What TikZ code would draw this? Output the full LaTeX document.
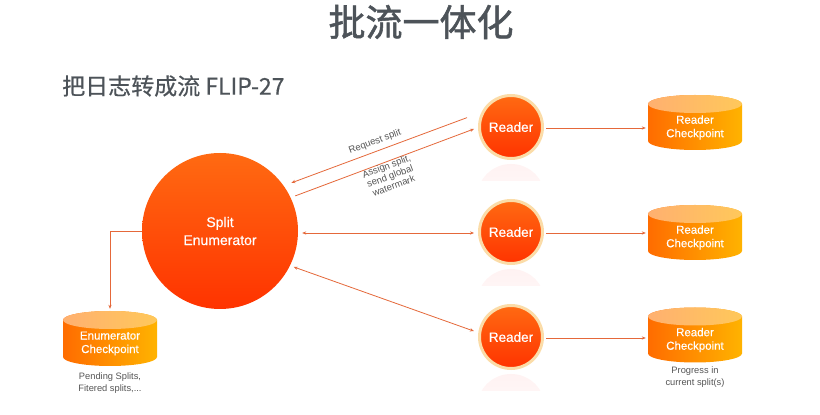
\documentclass[tikz,border=0pt]{standalone}
\usepackage{fontspec}
\setmainfont{Liberation Sans}
\newfontfamily\cjk{Noto Sans CJK SC}
\newfontfamily\cjktitle[FakeBold=1.4]{Noto Sans CJK SC}
\newfontfamily\cjksub[FakeBold=0.5]{Noto Sans CJK SC}
\newfontfamily\whitesans[FakeBold=0.4]{Liberation Sans}
\usetikzlibrary{arrows.meta,calc}
\definecolor{titlegray}{HTML}{4D5359}
\definecolor{labelgray}{HTML}{555555}
\definecolor{conncol}{HTML}{E5683A}
\definecolor{circTop}{HTML}{FF6A12}
\definecolor{circBot}{HTML}{FF3300}
\definecolor{ringcol}{HTML}{FBDCA8}
\definecolor{cylL}{HTML}{FF6C00}
\definecolor{cylR}{HTML}{FFB300}
\definecolor{topL}{HTML}{FFB070}
\definecolor{topR}{HTML}{FFC85A}
\newcommand\mycyl[4]{%
  \shade[left color=cylL, right color=cylR] (#2-47,#3+18.5) -- (#2-47,#3-18.5)
    arc[start angle=180,end angle=360,x radius=47,y radius=9] -- (#2+47,#3+18.5)
    arc[start angle=0,end angle=180,x radius=47,y radius=9] -- cycle;
  \shade[left color=topL, right color=topR] (#2,#3+18.5) ellipse[x radius=47,y radius=9];
  \node[cylbox] (#1) at (#2,#3) {};
  \node[cyltext] at (#2,#3-5) {#4};
}
\begin{document}
\begin{tikzpicture}[x=1pt,y=1pt,
  cylbox/.style={rectangle,minimum width=94pt,minimum height=55pt,inner sep=0pt},
  cyltext/.style={text=white,align=center,font=\whitesans\fontsize{11.5}{13.5}\selectfont,inner sep=0pt},
  bigcirc/.style={circle,minimum size=156pt,inner sep=0pt,top color=circTop,bottom color=circBot,
    text=white,align=center,font=\whitesans\fontsize{14}{18}\selectfont},
  reader/.style={circle,minimum size=63pt,inner sep=0pt,top color=circTop,bottom color=circBot,
    draw=ringcol,line width=3pt,text=white,font=\whitesans\fontsize{13.5}{16}\selectfont},
  conn/.style={draw=conncol,line width=0.8pt,-{Stealth[length=4pt,width=3.2pt]}},
  conn2/.style={draw=conncol,line width=0.8pt,{Stealth[length=4pt,width=3.2pt]}-{Stealth[length=4pt,width=3.2pt]}},
  lbl/.style={text=labelgray,align=center,font=\fontsize{9.5}{10.5}\selectfont,inner sep=0pt},
  note/.style={text=labelgray,align=center,font=\fontsize{9.3}{12}\selectfont,inner sep=0pt}
]
\useasboundingbox[fill=white] (0,0) rectangle (820,415);

% titles
\node[text=titlegray,font=\cjktitle\fontsize{37}{40}\selectfont,inner sep=0pt] (title) at (421,393) {批流一体化};
\node[text=titlegray,font=\cjksub\fontsize{23}{26}\selectfont,inner sep=0pt,anchor=west] (sub) at (62,329) {把日志转成流 FLIP-27};

% faint reflections under readers
\foreach \yy in {288,183,78}{
  \begin{scope}
    \clip (470,\yy-37) rectangle (552,\yy-54);
    \shade[top color=red!5,bottom color=white] (511,\yy-71) circle[radius=34];
  \end{scope}
}

% main nodes
\node[bigcirc] (enum) at (220,184) {Split\\Enumerator};
\node[reader] (r1) at (511,288) {Reader};
\node[reader] (r2) at (511,183) {Reader};
\node[reader] (r3) at (511,78) {Reader};

% cylinders
\mycyl{c1}{695}{292.5}{Reader\\Checkpoint}
\mycyl{c2}{695}{182.5}{Reader\\Checkpoint}
\mycyl{c3}{695}{80}{Reader\\Checkpoint}
\mycyl{ec}{110}{76.5}{Enumerator\\Checkpoint}

% notes
\node[note] (n1) at (110,32) {Pending Splits,\\Fitered splits,...};
\node[note] (n2) at (695,37.5) {Progress in\\current split(s)};

% connectors
\draw[conn] ($(r1)+(168:45)$) -- ($(enum)+(34:86)$);
\draw[conn] ($(enum)+(25:83)$) -- ($(r1)+(183:37)$);
\draw[conn2] ($(enum.east)+(4,-2)$) -- ($(r2.west)+(-4,-1)$);
\draw[conn2] ($(enum)+(-26:82)$) -- ($(r3)+(171:37.5)$);
\draw[conn] ($(r1.east)+(2,-1)$) -- ($(r1.east -| c1.west)+(-2,-1)$);
\draw[conn] ($(r2.east)+(2,-1)$) -- ($(r2.east -| c2.west)+(-2,-1)$);
\draw[conn] ($(r3.east)+(2,-1)$) -- ($(r3.east -| c3.west)+(-2,-1)$);
\draw[conn] (enum.west) -| ($(ec.north)+(0,2)$);

% labels
\node[lbl,rotate=20.4] (lreq) at (375,273) {Request split};
\node[lbl,rotate=20.4] (lasg) at (390,239) {Assign split,\\send global\\watermark};
\end{tikzpicture}
\end{document}
